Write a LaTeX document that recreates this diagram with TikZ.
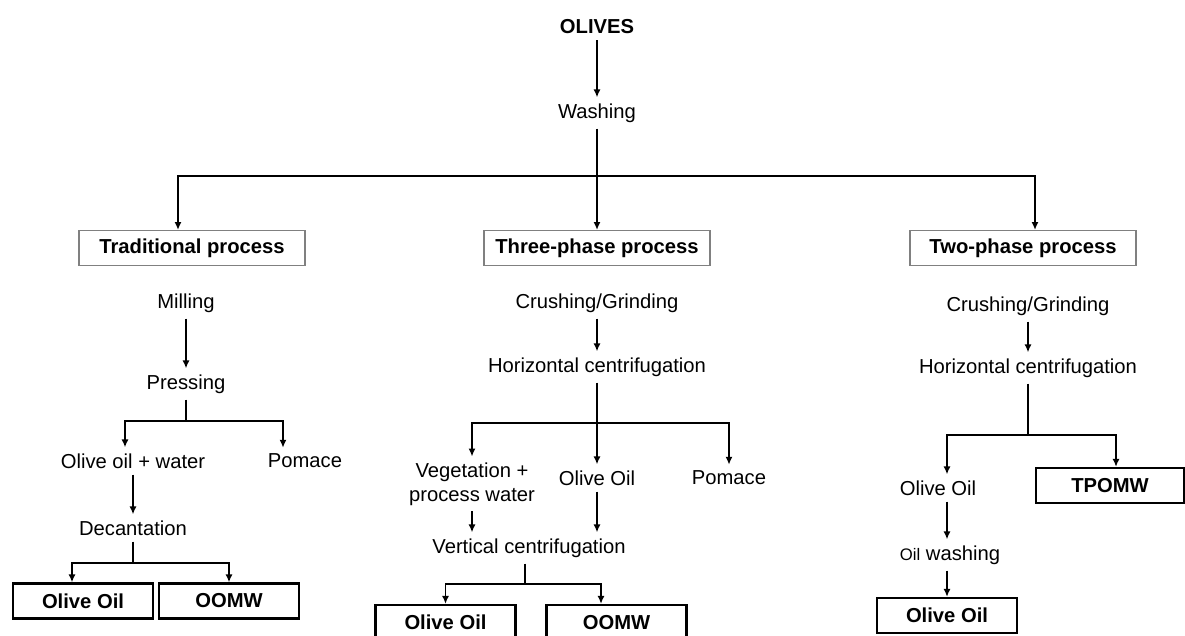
\documentclass[tikz,border=0pt]{standalone}
\usepackage{fontspec}
\setmainfont{Liberation Sans}
\usetikzlibrary{arrows.meta,positioning}

\begin{document}
\begin{tikzpicture}[
    node distance=1.2cm, on grid,
    stage/.style={font=\fontsize{11.5}{13.5}\selectfont, align=center},
    process/.style={rectangle, draw=gray, line width=0.6pt, font=\fontsize{11.5}{13.5}\selectfont\bfseries, minimum width=4.52cm, minimum height=0.7cm},
    product/.style={rectangle, draw, line width=1.3pt, font=\fontsize{11.5}{13.5}\selectfont\bfseries, minimum width=2.8cm, minimum height=0.7cm},
    connection/.style={-{Latex[length=4.5pt,width=4pt]}, line width=1.1pt},
    link/.style={line width=1.1pt}
]

% Page frame
\useasboundingbox (0,0) rectangle (23.7,-12.7);
\clip (0,0) rectangle (23.7,-12.7);

% Raw material
\node[stage, font=\fontsize{11.5}{13.5}\selectfont\bfseries] (olives) at (11.94,-0.54) {OLIVES};
\node[stage, below=1.72cm of olives] (washing) {Washing};
\coordinate[below=1.26cm of washing] (split);

% Processes
\node[process, below left=2.7cm and 8.1cm of washing] (trad) {Traditional process};
\node[process, below=2.7cm of washing] (three) {Three-phase process};
\node[process, below right=2.7cm and 8.52cm of washing] (two) {Two-phase process};

% Traditional process
\node[stage, below left=1.1cm and 0.12cm of trad] (mill) {Milling};
\node[stage, below=1.62cm of mill] (press) {Pressing};
\coordinate[below=0.74cm of press] (splitpress);
\node[stage, below left=1.54cm and 1.06cm of press] (oilwater) {Olive oil + water};
\node[stage, below right=1.54cm and 2.38cm of press] (pomace1) {Pomace};
\node[stage, below=1.34cm of oilwater] (decant) {Decantation};
\coordinate[below=0.7cm of decant] (splitdecant);
\node[product, below left=1.46cm and 1.0cm of decant] (oil1) {Olive Oil};
\node[product, below right=1.46cm and 1.92cm of decant] (oomw1) {OOMW};

% Three-phase process
\node[stage, below=1.1cm of three] (crush2) {Crushing/Grinding};
\node[stage, below=1.28cm of crush2] (hcent2) {Horizontal centrifugation};
\coordinate[below=1.12cm of hcent2] (splithcent2);
\node[stage, below left=2.34cm and 2.5cm of hcent2] (veg) {Vegetation +\\process water};
\node[stage, below=2.22cm of hcent2] (oil2) {Olive Oil};
\node[stage, below right=2.22cm and 2.64cm of hcent2] (pomace2) {Pomace};
\node[stage, below left=3.62cm and 1.36cm of hcent2] (vcent) {Vertical centrifugation};
\coordinate[below left=0.72cm and 0.08cm of vcent] (splitvcent);
\node[product, below left=1.49cm and 1.67cm of vcent] (oil3) {Olive Oil};
\node[product, below right=1.49cm and 1.75cm of vcent] (oomw3) {OOMW};

% Two-phase process
\node[stage, below right=1.16cm and 0.1cm of two] (crush3) {Crushing/Grinding};
\node[stage, below=1.24cm of crush3] (hcent3) {Horizontal centrifugation};
\coordinate[below=1.34cm of hcent3] (splithcent3);
\node[stage, below left=2.4cm and 1.8cm of hcent3] (oil4) {Olive Oil};
\node[product, minimum width=2.96cm, below right=2.35cm and 1.64cm of hcent3] (tpomw) {TPOMW};
\node[stage, below right=1.34cm and 0.24cm of oil4] (owash) {{\fontsize{9.5}{11}\selectfont Oil} washing};
\node[product, below left=1.21cm and 0.06cm of owash] (oil5) {Olive Oil};

% Connections from the top
\draw[connection] (olives) -- (washing);
\draw[link] (washing) -- (split);
\draw[connection] (split) -- (three);
\draw[connection] (split) -| ([xshift=-0.28cm]trad.north);
\draw[connection] (split) -| ([xshift=0.24cm]two.north);

% Connections traditional
\draw[connection] (mill) -- (press);
\draw[link] (press) -- (splitpress);
\draw[connection] (splitpress) -| ([xshift=-0.16cm]oilwater.north);
\draw[connection] (splitpress) -| ([xshift=-0.44cm]pomace1.north);
\draw[connection] (oilwater) -- (decant);
\draw[link] (decant) -- (splitdecant);
\draw[connection] (splitdecant) -| ([xshift=-0.22cm]oil1.north);
\draw[connection] (splitdecant) -| (oomw1.north);

% Connections three-phase
\draw[connection] (crush2) -- (hcent2);
\draw[link] (hcent2) -- (splithcent2);
\draw[connection] (splithcent2) -| (veg.north);
\draw[connection] (splithcent2) -- (oil2);
\draw[connection] (splithcent2) -| (pomace2.north);
\draw[connection] (veg.south) -- (veg.south |- vcent.north);
\draw[connection] (oil2.south) -- (oil2.south |- vcent.north);
\draw[link] (vcent.south -| splitvcent) -- (splitvcent);
\draw[connection] (splitvcent) -| (oil3.north);
\draw[connection] (splitvcent) -| ([xshift=-0.31cm]oomw3.north);

% Connections two-phase
\draw[connection] (crush3) -- (hcent3);
\draw[link] (hcent3) -- (splithcent3);
\draw[connection] (splithcent3) -| ([xshift=0.18cm]oil4.north);
\draw[connection] (splithcent3) -| ([xshift=0.12cm]tpomw.north);
\draw[connection] ([xshift=0.18cm]oil4.south) -- ([xshift=0.18cm]oil4.south |- owash.north);
\draw[connection] (oil5.north |- owash.south) -- (oil5.north);

\end{tikzpicture}
\end{document}
